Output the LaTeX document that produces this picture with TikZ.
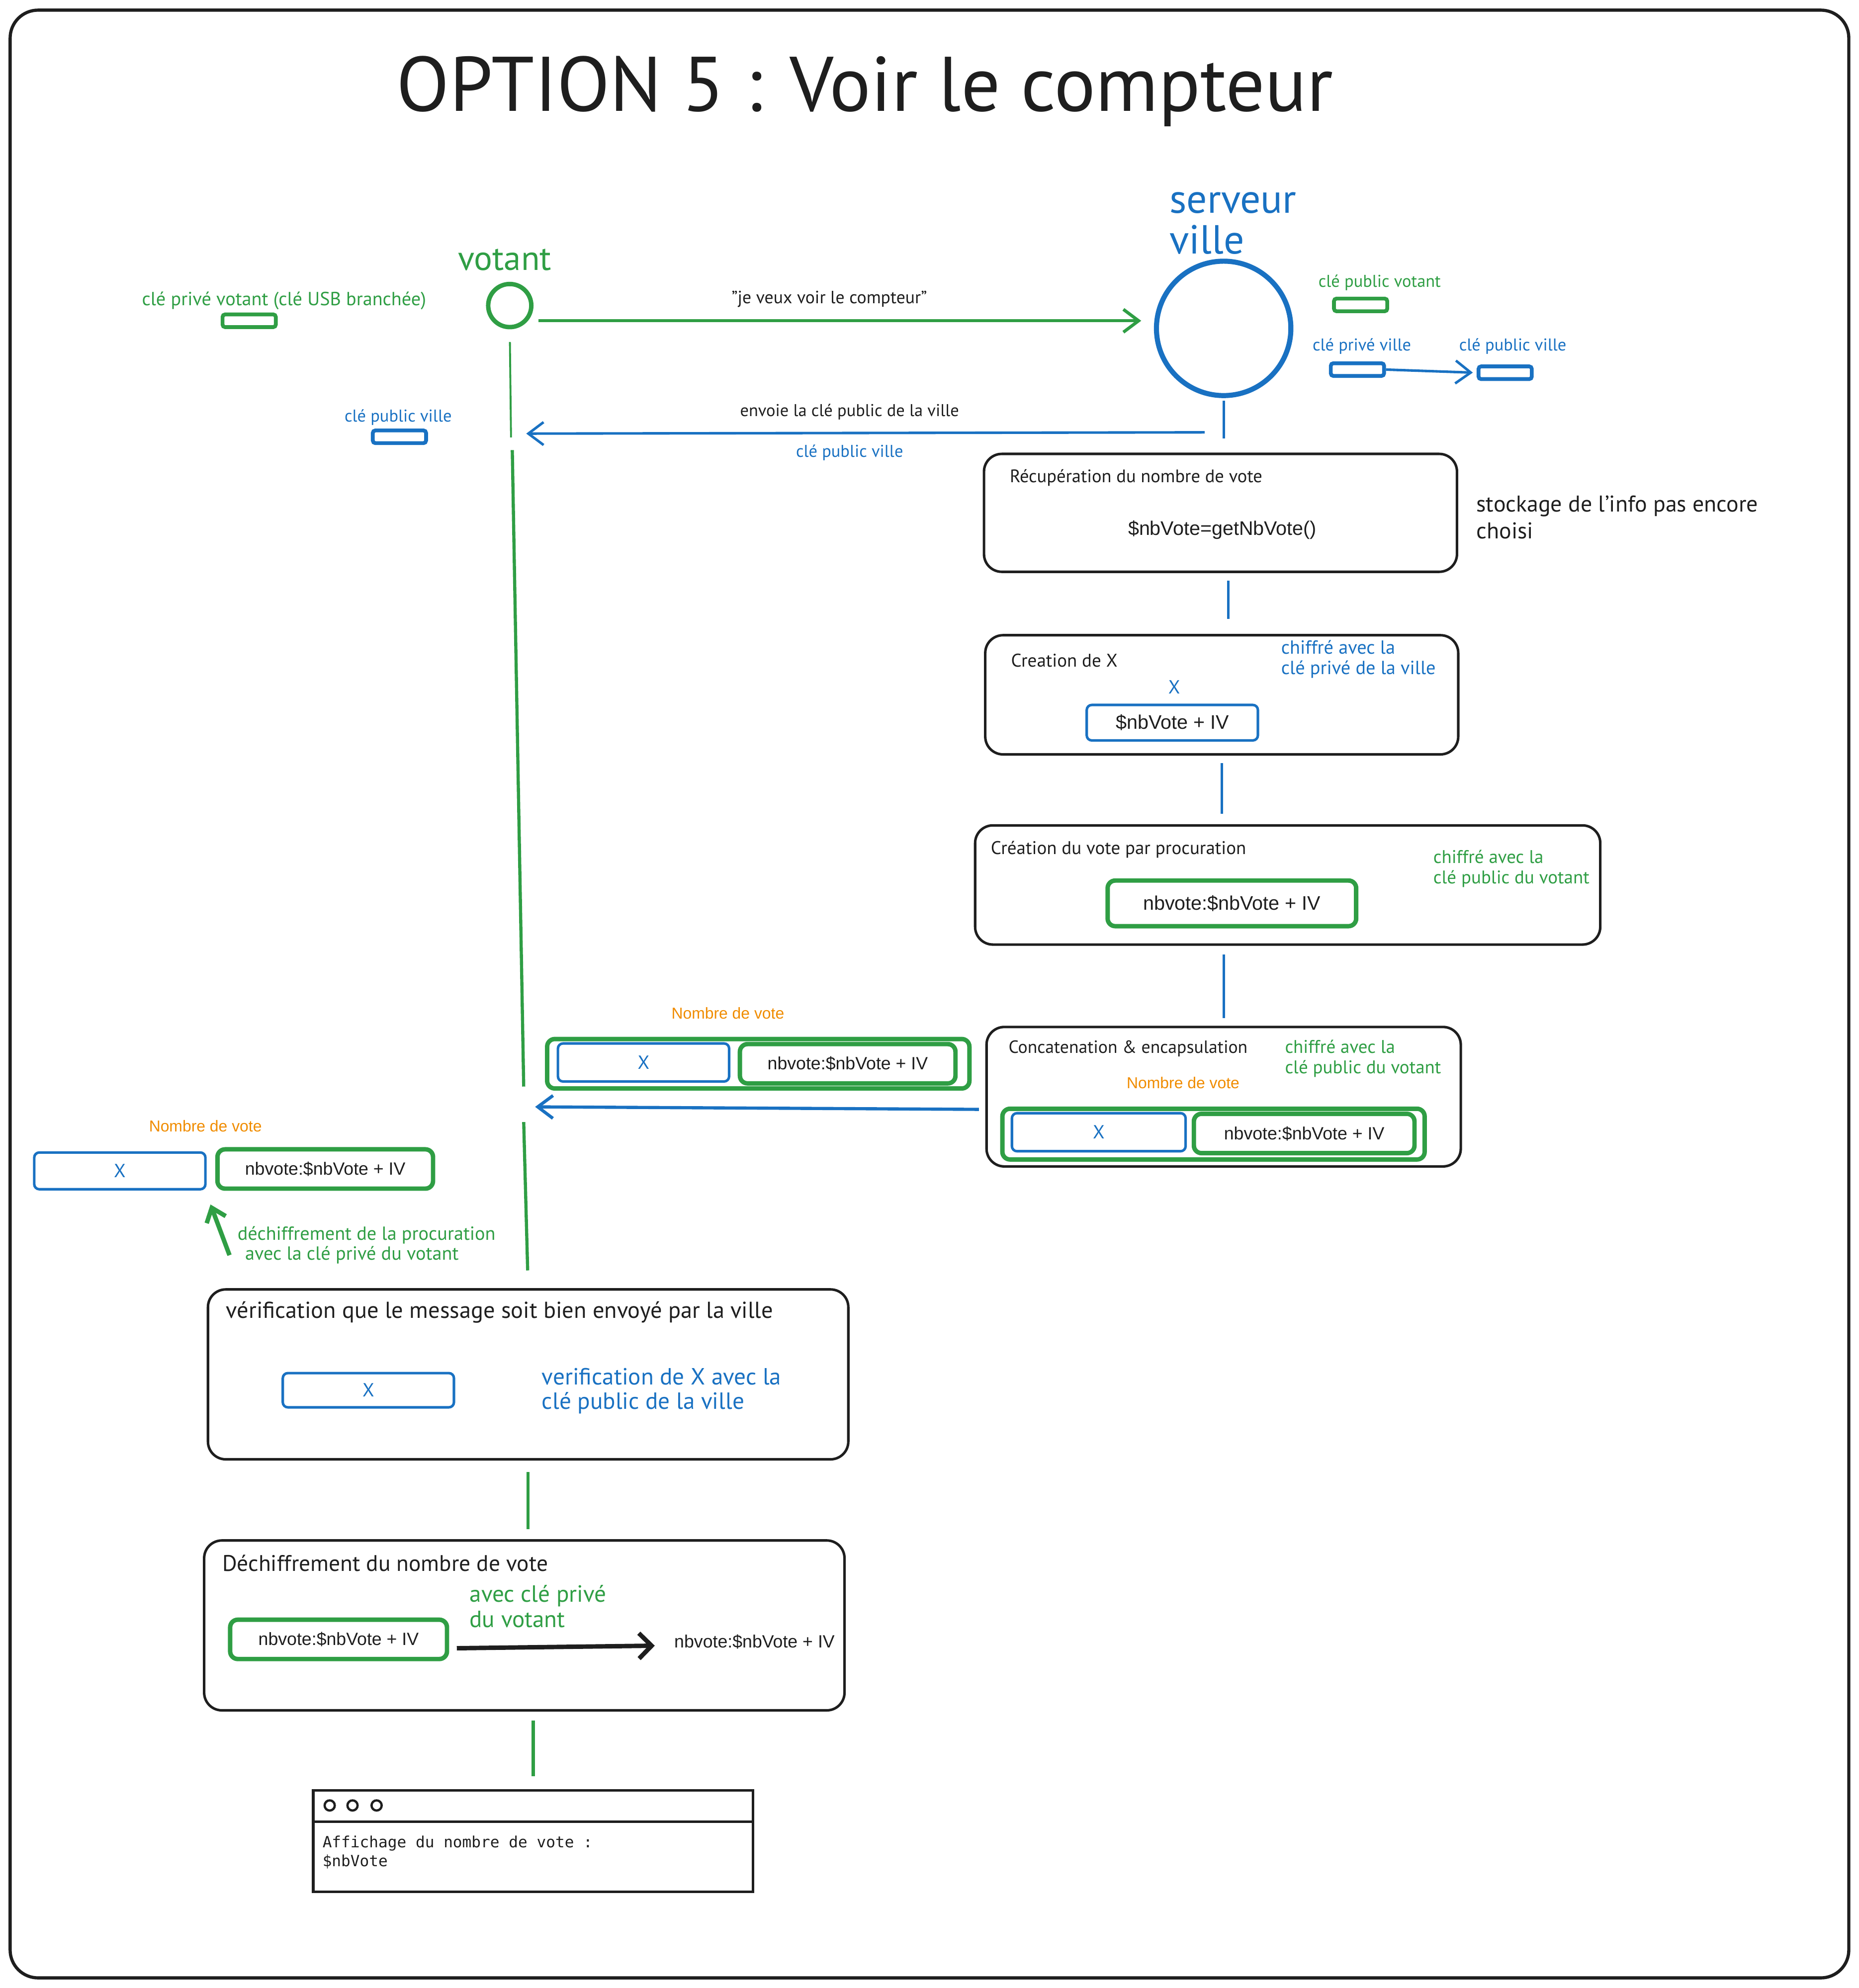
\documentclass[tikz,border=0pt]{standalone}
\usepackage{fontspec}
\setmainfont{PT Sans}
\setsansfont{Liberation Sans}
\setmonofont{DejaVu Sans Mono}
\usetikzlibrary{arrows.meta}

\definecolor{encre}{HTML}{1E1E1E}
\definecolor{vert}{HTML}{2F9E44}
\definecolor{bleu}{HTML}{1971C2}
\definecolor{orangeNb}{HTML}{F08C00}

\newcommand{\taille}[2]{\fontsize{#1}{#2}\selectfont}

\tikzset{every picture/.style={line width=0.75pt}}
\tikzset{
  main/.style={font=\taille{14}{17}, text=encre, inner sep=0pt},
  note/.style={main, align=left, anchor=west},
  helv/.style={font=\sffamily\taille{14}{17}, text=encre, inner sep=0pt},
  etape/.style={draw=encre, line width=2pt, rounded corners=14pt, inner sep=0pt},
  cleV/.style={draw=vert, line width=3pt, rounded corners=2pt, minimum width=42pt, minimum height=10pt, inner sep=0pt},
  cleB/.style={cleV, draw=bleu},
  boiteV/.style={helv, draw=vert, line width=3.5pt, rounded corners=6pt},
  boiteB/.style={main, draw=bleu, line width=2pt, rounded corners=4pt, text=bleu, font=\taille{15}{18}},
  lienV/.style={draw=vert, line width=2.5pt},
  lienB/.style={draw=bleu, line width=2pt},
  fleche/.style={-{Straight Barb[length=12pt,width=18pt]}}
}

\begin{document}
\begin{tikzpicture}[x=1pt,y=1pt,yscale=-1,xscale=1]
	\useasboundingbox (0,0) rectangle (1466,1568);
	
	%Shape: Frame
	\draw[encre, line width=2.5pt, rounded corners=22pt] (8,8) rectangle (1458,1560);
	
	% Text Node
	\node[main, font=\taille{61}{70}] (titre) at (682,72) {OPTION 5 : Voir le compteur};
	
	%Flowchart: Connector
	\node[circle, draw=vert, line width=3.5pt, minimum size=34pt, inner sep=0pt] (votant) at (402,241) {};
	\node[main, text=vert, font=\taille{27}{30}] (lblVotant) at (398,205) {votant};
	%Flowchart: Connector
	\node[circle, draw=bleu, line width=4pt, minimum size=106pt, inner sep=0pt] (serveur) at (965,259) {};
	\node[note, text=bleu, font=\taille{32}{32}] (lblServeur) at (922,176) {serveur\\ville};
	
	%Shape: Keys
	\node[cleV] (clePrivVotant) at (196.5,253) {};
	\node[main, text=vert, font=\taille{15}{17}] (lblPrivVotant) at (224,237) {clé privé votant (clé USB branchée)};
	\node[cleB] (clePubVilleV) at (315,344.5) {};
	\node[main, text=bleu, font=\taille{13.5}{16}] (lblPubVilleV) at (314,329) {clé public ville};
	\node[cleV] (clePubVotant) at (1073,240.5) {};
	\node[main, text=vert, font=\taille{13.5}{16}] (lblPubVotant) at (1088,223) {clé public votant};
	\node[cleB] (clePrivVille) at (1070.5,291.5) {};
	\node[main, text=bleu, font=\taille{13.5}{16}] (lblPrivVille) at (1074,273) {clé privé ville};
	\node[cleB] (clePubVille) at (1187,294) {};
	\node[main, text=bleu, font=\taille{13.5}{16}] (lblPubVille) at (1193,273) {clé public ville};
	
	%Shape: Recuperation
	\node[etape, minimum width=373pt, minimum height=93pt] (recup) at (962.5,404.5) {};
	\node[note, font=\taille{14.3}{16}] (tRecup) at (796,377) {Récupération du nombre de vote};
	\node[helv, font=\sffamily\taille{15.5}{18}] (getNb) at (964,418) {\$nbVote=getNbVote()};
	\node[note, font=\taille{18}{21}] (stockage) at (1164,408) {stockage de l'info pas encore\\choisi};
	
	%Shape: Creation de X
	\node[etape, minimum width=373pt, minimum height=94pt] (creaX) at (963.5,548) {};
	\node[note, font=\taille{14.5}{16}] (tCreaX) at (797,521) {Creation de X};
	\node[main, text=bleu, font=\taille{15}{18}] (xCreaX) at (926,542) {X};
	\node[boiteB, minimum width=135pt, minimum height=28pt, font=\sffamily\taille{15.5}{18}, text=encre] (nbX) at (924.5,570) {\$nbVote + IV};
	\node[note, text=bleu, font=\taille{15}{16}] (chifPriv) at (1010,520) {chiffré avec la\\clé privé de la ville};
	
	%Shape: Procuration
	\node[etape, minimum width=493pt, minimum height=94pt] (procur) at (1015.5,698) {};
	\node[note, font=\taille{14.5}{16}] (tProcur) at (781,670) {Création du vote par procuration};
	\node[boiteV, minimum width=196pt, minimum height=36pt, font=\sffamily\taille{15.5}{18}] (nbProcur) at (971.5,712.5) {nbvote:\$nbVote + IV};
	\node[note, text=vert, font=\taille{14.5}{16}] (chifPubP) at (1130,685) {chiffré avec la\\clé public du votant};
	
	%Shape: Concatenation
	\node[etape, minimum width=374pt, minimum height=110pt] (concat) at (965,865) {};
	\node[note, font=\taille{14}{16}] (tConcat) at (795,827) {Concatenation \& encapsulation};
	\node[helv, text=orangeNb, font=\sffamily\taille{12.5}{15}] (nbrConcat) at (933,854) {Nombre de vote};
	\node[note, text=vert, font=\taille{14.5}{16}] (chifPubC) at (1013,835) {chiffré avec la\\clé public du votant};
	\node[boiteV, minimum width=333pt, minimum height=40pt] (paquetC) at (957,894.5) {};
	\node[boiteB, minimum width=137pt, minimum height=30pt] (xC) at (866.5,893) {X};
	\node[boiteV, minimum width=174pt, minimum height=31pt] (nbC) at (1028.5,894) {nbvote:\$nbVote + IV};
	
	%Shape: Message recu
	\node[helv, text=orangeNb, font=\sffamily\taille{12.5}{15}] (nbrMid) at (574,799) {Nombre de vote};
	\node[boiteV, minimum width=333pt, minimum height=39pt] (paquetM) at (598,839) {};
	\node[boiteB, minimum width=135pt, minimum height=30pt] (xM) at (507.5,838) {X};
	\node[boiteV, minimum width=170pt, minimum height=31pt] (nbM) at (668.5,839) {nbvote:\$nbVote + IV};
	
	%Shape: Message dechiffre
	\node[helv, text=orangeNb, font=\sffamily\taille{12.5}{15}] (nbrG) at (162,888) {Nombre de vote};
	\node[boiteB, minimum width=135pt, minimum height=29pt] (xG) at (94.5,923.5) {X};
	\node[boiteV, minimum width=170pt, minimum height=31pt] (nbG) at (256.5,922) {nbvote:\$nbVote + IV};
	\node[note, text=vert, font=\taille{15}{16}] (dechProc) at (187,982) {déchiffrement de la procuration\\\hspace*{6pt}avec la clé privé du votant};
	
	%Shape: Verification
	\node[etape, minimum width=505pt, minimum height=134pt] (verif) at (416.5,1084) {};
	\node[note, font=\taille{18.2}{20}] (tVerif) at (178,1035) {vérification que le message soit bien envoyé par la ville};
	\node[boiteB, minimum width=135pt, minimum height=27pt] (xV) at (290.5,1096.5) {X};
	\node[note, text=bleu, font=\taille{18.5}{19}] (verifX) at (427,1097) {verification de X avec la\\clé public de la ville};
	
	%Shape: Dechiffrement
	\node[etape, minimum width=505pt, minimum height=134pt] (dechif) at (413.5,1282) {};
	\node[note, font=\taille{17.8}{20}] (tDechif) at (175,1233) {Déchiffrement du nombre de vote};
	\node[boiteV, minimum width=171pt, minimum height=31pt] (nbD) at (267,1293) {nbvote:\$nbVote + IV};
	\node[note, text=vert, font=\taille{18.5}{20}] (avecPriv) at (370,1267) {avec clé privé\\du votant};
	\node[helv] (resD) at (595,1295) {nbvote:\$nbVote + IV};
	
	%Shape: Terminal
	\node[draw=encre, line width=2pt, minimum width=347pt, minimum height=80pt, inner sep=0pt] (term) at (420.5,1452) {};
	\coordinate (sep) at (420,1437);
	\draw[encre, line width=2pt] (term.west |- sep) -- (term.east |- sep);
	\foreach \i/\cx in {1/260, 2/278, 3/297}
		\node[circle, draw=encre, line width=1.8pt, minimum size=8pt, inner sep=0pt] (bouton\i) at (\cx,1424) {};
	\node[anchor=west, align=left, font=\ttfamily\taille{12.2}{15}, text=encre, inner sep=0pt] (affich) at (254,1461) {Affichage du nombre de vote :\\\$nbVote};
	
	% Coordinates
	\coordinate (votantA) at (403,345);
	\coordinate (votantB) at (404,355);
	\coordinate (votantC) at (413,857);
	\coordinate (votantD) at (413,885);
	\coordinate (envoiD) at (950,341);
	\coordinate (envoiA) at (415,342);
	\coordinate (retour) at (422,873);
	\coordinate (dechD) at (181,990);
	
	%Straight Lines
	\draw[lienV, line width=1.5pt, shorten <=10pt] (votant.south) -- (votantA);
	\draw[lienV] (votantB) -- (votantC);
	\draw[lienV, shorten >=14pt] (votantD) -- (verif.north);
	
	%Straight Lines
	\draw[lienV, fleche] ([xshift=4pt,yshift=12pt]votant.east) -- ([xshift=-10pt,yshift=-6pt]serveur.west);
	\node[main] (demande) at (654,236) {"je veux voir le compteur"};
	
	%Straight Lines
	\draw[lienB, shorten <=2pt, shorten >=11pt] (serveur.south) -- (serveur.south |- recup.north);
	\draw[lienB, fleche] (envoiD) -- (envoiA);
	\node[main, font=\taille{13.5}{16}] (envoie) at (670,325) {envoie la clé public de la ville};
	\node[main, text=bleu, font=\taille{13.5}{16}] (lblEnvoie) at (670,357) {clé public ville};
	\draw[lienB, fleche, shorten >=3pt] (clePrivVille.east) -- (clePubVille.west);
	
	%Straight Lines
	\draw[lienB, shorten <=6pt, shorten >=12pt] ([xshift=6pt]recup.south) -- ([xshift=5pt]creaX.north);
	\draw[lienB, shorten <=6pt, shorten >=8pt] (creaX.south) -- (creaX.south |- procur.north);
	\draw[lienB, shorten <=7pt, shorten >=6pt] (concat.north |- procur.south) -- (concat.north);
	\draw[lienB, line width=2.5pt, fleche] ([xshift=-5pt,yshift=10pt]concat.west) -- (retour);
	
	%Straight Lines
	\draw[lienV, line width=3.5pt, -{Straight Barb[length=10pt,width=16pt]}] (dechD) -- ([xshift=3pt,yshift=11pt]xG.south east);
	\draw[lienV, shorten <=9pt, shorten >=8pt] (verif.south) -- (verif.south |- dechif.north);
	\draw[encre, line width=3.5pt, -{Straight Barb[length=10pt,width=20pt]}] ([xshift=6pt,yshift=7pt]nbD.east) -- ([xshift=-15pt,yshift=3pt]resD.west);
	\draw[lienV, shorten <=7pt, shorten >=10pt] (term.north |- dechif.south) -- (term.north);
	
\end{tikzpicture}
\end{document}
